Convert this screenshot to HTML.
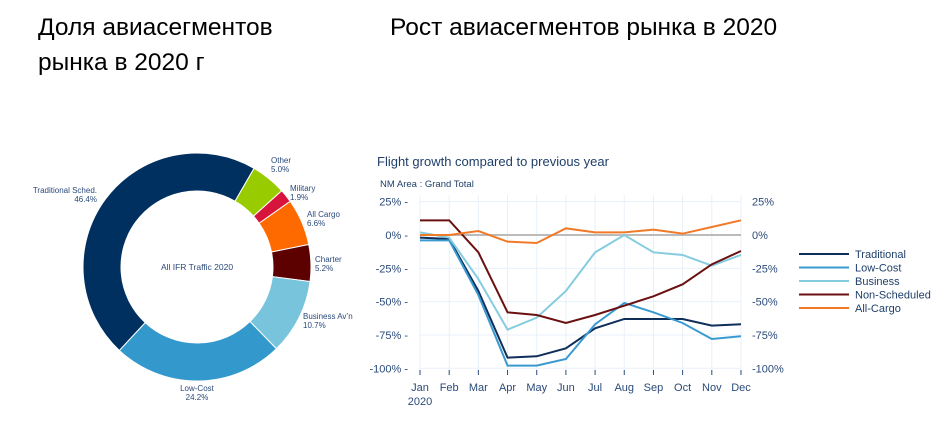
<!DOCTYPE html>
<html><head><meta charset="utf-8"><style>
body{margin:0;width:951px;height:429px;background:#fff;overflow:hidden;font-family:"Liberation Sans",sans-serif}
.h{position:absolute;font-family:"Liberation Sans","Noto Sans CJK SC",sans-serif;font-size:24.5px;color:#000;white-space:nowrap}
</style></head><body>
<div class="h" style="left:38px;top:10px;line-height:35px">Доля авиасегментов<br>рынка в 2020 г</div>
<div class="h" style="left:390px;top:10px;line-height:35px">Рост авиасегментов рынка в 2020</div>
<svg id="s" width="951" height="429" style="position:absolute;left:0;top:0" font-family="Liberation Sans, sans-serif"></svg>
<script>
const s=document.getElementById('s');let h='';
const cx=197,cy=267,R=114,r=76;
const seg=[[5.0,'#99cc00'],[1.9,'#d7143c'],[6.6,'#ff6a00'],[5.2,'#5c0000'],[10.7,'#78c4dc'],[24.2,'#3399cc'],[46.4,'#003060']];
let a=30;
function pt(rad,deg){const t=deg*Math.PI/180;return [cx+rad*Math.sin(t),cy-rad*Math.cos(t)];}
for(const [v,c] of seg){const b=a+v*3.6;const l=(b-a)>180?1:0;
const p1=pt(R,a),p2=pt(R,b),p3=pt(r,b),p4=pt(r,a);
h+=`<path d="M${p1} A${R},${R} 0 ${l} 1 ${p2} L${p3} A${r},${r} 0 ${l} 0 ${p4}Z" fill="${c}" stroke="#fff" stroke-width="1"/>`;a=b;}
const lab=[[271,163,'Other','5.0%','start'],[290,191,'Military','1.9%','start'],[307,217,'All Cargo','6.6%','start'],[315,262,'Charter','5.2%','start'],[303,319,'Business Av\u2019n','10.7%','start'],[97,193,'Traditional Sched.','46.4%','end'],[197,391,'Low-Cost','24.2%','middle']];
for(const [x,y,t1,t2,an] of lab)h+=`<text x="${x}" y="${y}" font-size="8" fill="#2a4a7a" text-anchor="${an}">${t1}<tspan x="${x}" dy="9">${t2}</tspan></text>`;
h+=`<text x="197" y="270" font-size="8.5" fill="#2a4a7a" text-anchor="middle">All IFR Traffic 2020</text>`;
const X=i=>420+i*29.18,Y=v=>235-1.333*v;
h+=`<text x="377" y="166" font-size="13" fill="#1f3f6a">Flight growth compared to previous year</text>`;
h+=`<text x="380" y="187" font-size="9.5" fill="#1f3f6a">NM Area : Grand Total</text>`;
for(let i=0;i<12;i++)h+=`<line x1="${X(i)}" y1="195" x2="${X(i)}" y2="370" stroke="#e8f0f8"/>`;
for(const v of [25,0,-25,-50,-75,-100]){h+=`<line x1="420" y1="${Y(v)}" x2="741" y2="${Y(v)}" stroke="#e8f0f8"/>`;
h+=`<text x="408" y="${Y(v)+4}" font-size="11" fill="#2a4a7a" text-anchor="end">${v}% -</text>`;
h+=`<text x="752" y="${Y(v)+4}" font-size="11" fill="#2a4a7a">${v}%</text>`;}
h+=`<line x1="420" y1="235" x2="741" y2="235" stroke="#bbb" stroke-width="2"/>`;
const m=['Jan','Feb','Mar','Apr','May','Jun','Jul','Aug','Sep','Oct','Nov','Dec'];
m.forEach((t,i)=>{h+=`<line x1="${X(i)}" y1="370" x2="${X(i)}" y2="375" stroke="#2a4a7a"/><text x="${X(i)}" y="391" font-size="11" fill="#2a4a7a" text-anchor="middle">${t}</text>`});
h+=`<text x="420" y="405" font-size="11" fill="#2a4a7a" text-anchor="middle">2020</text>`;
const ser=[
['Traditional','#0f2e5a',[-2,-3,-42,-92,-91,-85,-70,-63,-63,-63,-68,-67]],
['Low-Cost','#3a9ad0',[-4,-4,-45,-98,-98,-93,-67,-51,-58,-66,-78,-76]],
['Business','#86cce0',[2,-2,-33,-71,-62,-42,-13,0,-13,-15,-23,-15]],
['Non-Scheduled','#6a1010',[11,11,-13,-58,-60,-66,-60,-53,-46,-37,-22,-12]],
['All-Cargo','#f07a28',[0,0,3,-5,-6,5,2,2,4,1,6,11]]];
ser.forEach(([n,c,d],k)=>{h+=`<polyline fill="none" stroke="${c}" stroke-width="2" points="${d.map((v,i)=>X(i)+','+Y(v)).join(' ')}"/>`;
const y=254+k*13.5;h+=`<line x1="799" y1="${y}" x2="849" y2="${y}" stroke="${c}" stroke-width="2"/><text x="855" y="${y+4}" font-size="11" fill="#1f3f6a">${n}</text>`;});
s.innerHTML=h;
</script>
</body></html>
